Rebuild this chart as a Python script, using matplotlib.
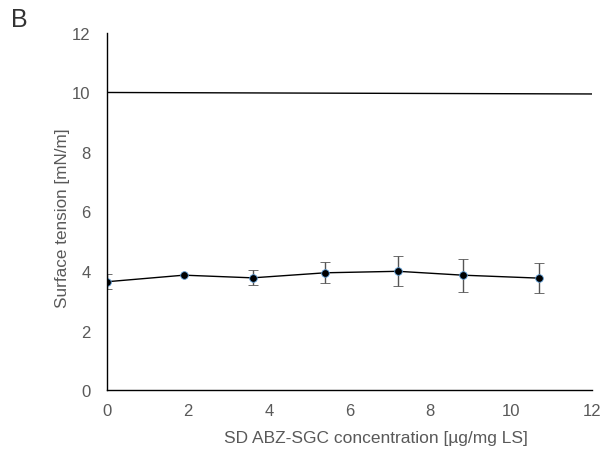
import matplotlib
matplotlib.use("Agg")
import matplotlib.pyplot as plt

plt.rcParams['font.family'] = ['Liberation Sans', 'DejaVu Sans']

# Data
conc = [0, 1.9, 3.6, 5.4, 7.2, 8.8, 10.7]
tension = [3.64, 3.86, 3.77, 3.94, 3.99, 3.86, 3.76]
tension_err = [0.25, 0, 0.25, 0.35, 0.5, 0.55, 0.5]
ref_x = [0, 12]
ref_y = [10, 9.95]

grey = "#595959"

fig = plt.figure(figsize=(6.09, 4.56), dpi=100)
ax = fig.add_axes([0.176, 0.1425, 0.796, 0.783])

ax.plot(ref_x, ref_y, color="black", lw=1.0)
ax.errorbar(conc, tension, yerr=tension_err, fmt="o-", color="black", lw=1.0,
            ms=5.5, mfc="black", mec="#5b9bd5", mew=0.6,
            ecolor="#555555", elinewidth=1.0, capsize=3.5, capthick=1.0)

ax.set_xlim(0, 12)
ax.set_ylim(0, 12)
ax.set_xticks(range(0, 13, 2))
ax.set_yticks(range(0, 13, 2))
ax.tick_params(length=0, labelsize=12, labelcolor=grey)
ax.tick_params(axis="x", pad=9)
ax.tick_params(axis="y", pad=12)

for s in ["top", "right"]:
    ax.spines[s].set_visible(False)
for s in ["left", "bottom"]:
    ax.spines[s].set_color("black")
    ax.spines[s].set_linewidth(1.0)

ax.set_xlabel("SD ABZ-SGC concentration [µg/mg LS]", fontsize=12.5, color=grey,
              va="center", ha="center")
ax.xaxis.set_label_coords(0.555, -0.132)
ax.set_ylabel("Surface tension [mN/m]", fontsize=12.3, color=grey,
              va="center", ha="center")
ax.yaxis.set_label_coords(-0.093, 0.485)

fig.text(0.018, 0.94, "B", fontsize=18, color="#333333")

fig.savefig("out.png", dpi=100)
